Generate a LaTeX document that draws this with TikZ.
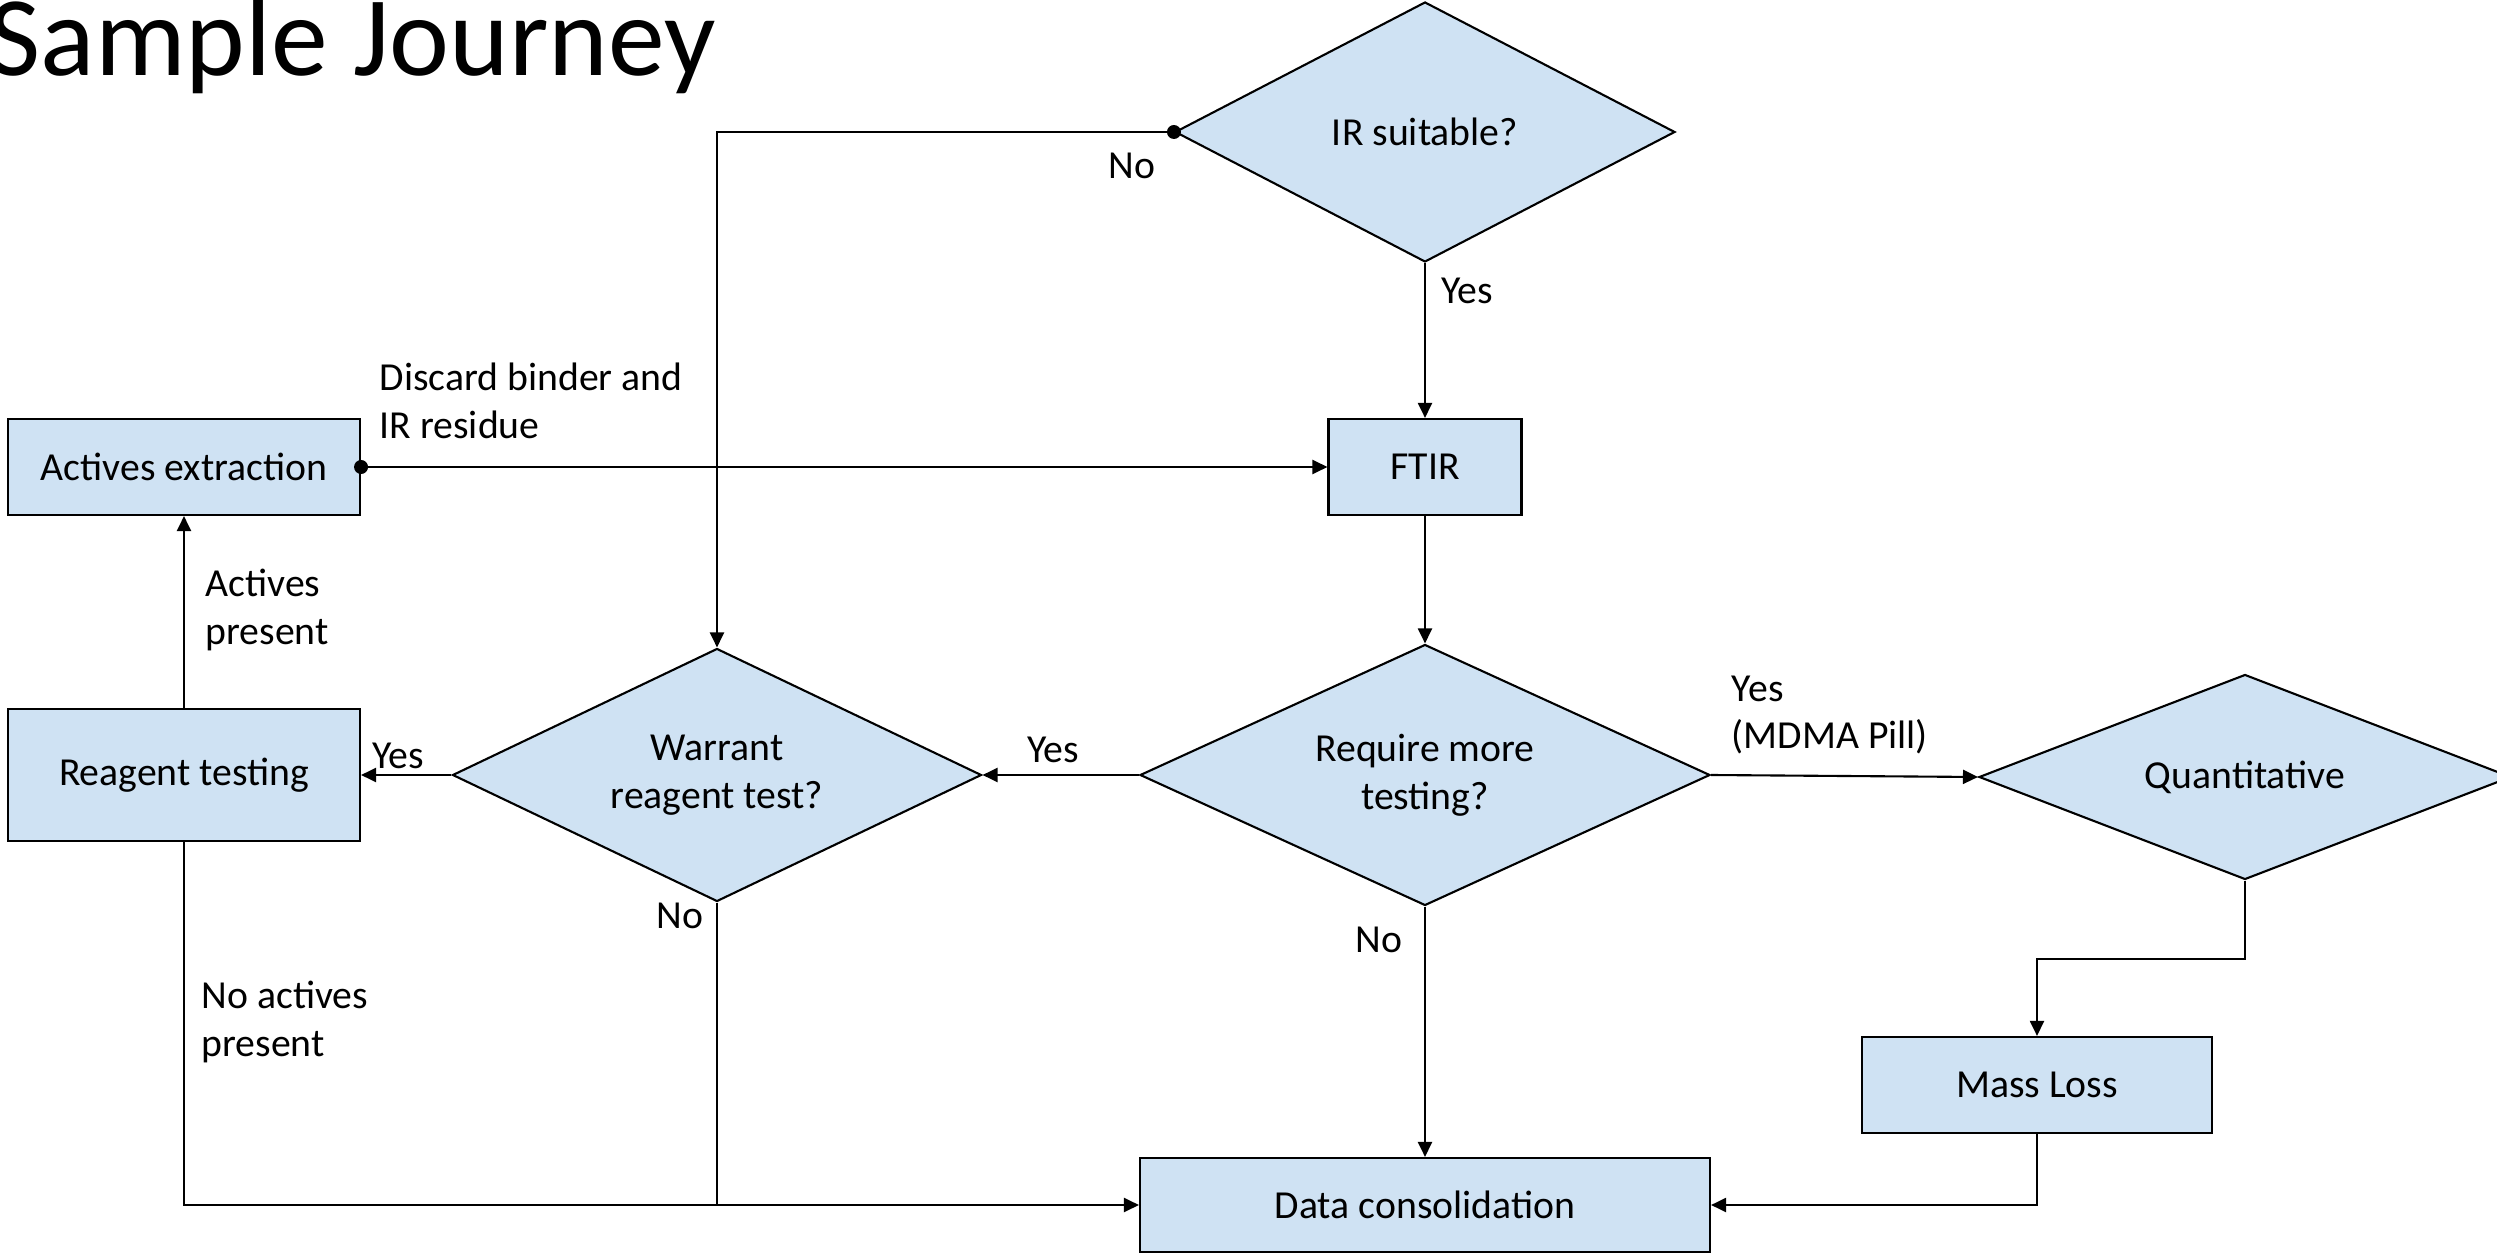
\documentclass[tikz,border=0pt]{standalone}
\usepackage{fontspec}
\setmainfont{Carlito}
\usetikzlibrary{shapes.geometric,arrows.meta}
\definecolor{boxblue}{RGB}{207,226,243}

\begin{document}
\begin{tikzpicture}[
   box/.style={draw,fill=boxblue,line width=0.6pt,inner sep=0pt,align=center},
   decision/.style={box,diamond,shape aspect=2.2},
   lbl/.style={inner sep=0pt,align=left},
   flow/.style={line width=0.6pt,-{Triangle[length=0.15cm,width=0.14cm]}},
   font=\fontsize{11.3}{13.6}\selectfont]
   \useasboundingbox (0,0) rectangle (24.97,12.55);
   % title
   \node[anchor=base west,inner sep=0pt,font=\fontsize{32.3}{38}\selectfont] (title) at (-0.12,11.79) {Sample Journey};
   % steps and decisions
   \node[decision,minimum width=5cm,minimum height=2.6cm] (ir) at (14.25,11.23) {IR suitable?};
   \node[box,minimum width=1.93cm,minimum height=0.96cm] (ftir) at (14.25,7.88) {FTIR};
   \node[box,minimum width=3.52cm,minimum height=0.96cm] (extract) at (1.84,7.88) {Actives extraction};
   \node[box,minimum width=3.52cm,minimum height=1.32cm] (reagent) at (1.84,4.80) {Reagent testing};
   \node[decision,minimum width=5.29cm,minimum height=2.53cm] (warrant) at (7.17,4.80) {Warrant\\reagent test?};
   \node[decision,minimum width=5.7cm,minimum height=2.61cm] (more) at (14.25,4.80) {Require more\\testing?};
   \node[decision,minimum width=5.32cm,minimum height=2.05cm] (quant) at (22.45,4.78) {Quantitative};
   \node[box,minimum width=3.5cm,minimum height=0.96cm] (mass) at (20.37,1.70) {Mass Loss};
   \node[box,minimum width=5.7cm,minimum height=0.94cm] (data) at (14.25,0.50) {Data consolidation};
   % connectors
   \fill (ir.west) circle (0.07);
   \draw[flow] (ir.west) -| (warrant.north);
   \node[lbl] (irno) at (11.32,10.89) {No};
   \draw[flow] (ir.south) -- (ftir.north);
   \node[lbl] (iryes) at (14.67,9.64) {Yes};
   \fill (extract.east) circle (0.07);
   \draw[flow] (extract.east) -- (ftir.west);
   \node[lbl,anchor=west] (discard) at (3.79,8.54) {Discard binder and\\IR residue};
   \draw[flow] (ftir.south) -- (more.north);
   \draw[flow] (more.west) -- (warrant.east);
   \node[lbl] (moreyes) at (10.53,5.05) {Yes};
   \draw[flow] (warrant.west) -- (reagent.east);
   \node[lbl] (warrantyes) at (3.98,4.99) {Yes};
   \draw[flow] (reagent.north) -- (extract.south);
   \node[lbl,anchor=west] (present) at (2.05,6.45) {Actives\\present};
   \draw[flow] (reagent.south) |- (data.west);
   \node[lbl,anchor=west] (absent) at (2.01,2.33) {No actives\\present};
   \draw[line width=0.6pt] (warrant.south) -- (warrant.south |- data.west);
   \node[lbl] (warrantno) at (6.80,3.39) {No};
   \draw[flow] (more.south) -- (data.north);
   \node[lbl] (moreno) at (13.79,3.15) {No};
   \draw[flow] (more.east) -- (quant.west);
   \node[lbl,anchor=west] (pill) at (17.31,5.40) {Yes\\(MDMA Pill)};
   \draw[flow] (quant.south) -- ++(0,-0.78) -| (mass.north);
   \draw[flow] (mass.south) |- (data.east);
\end{tikzpicture}
\end{document}
